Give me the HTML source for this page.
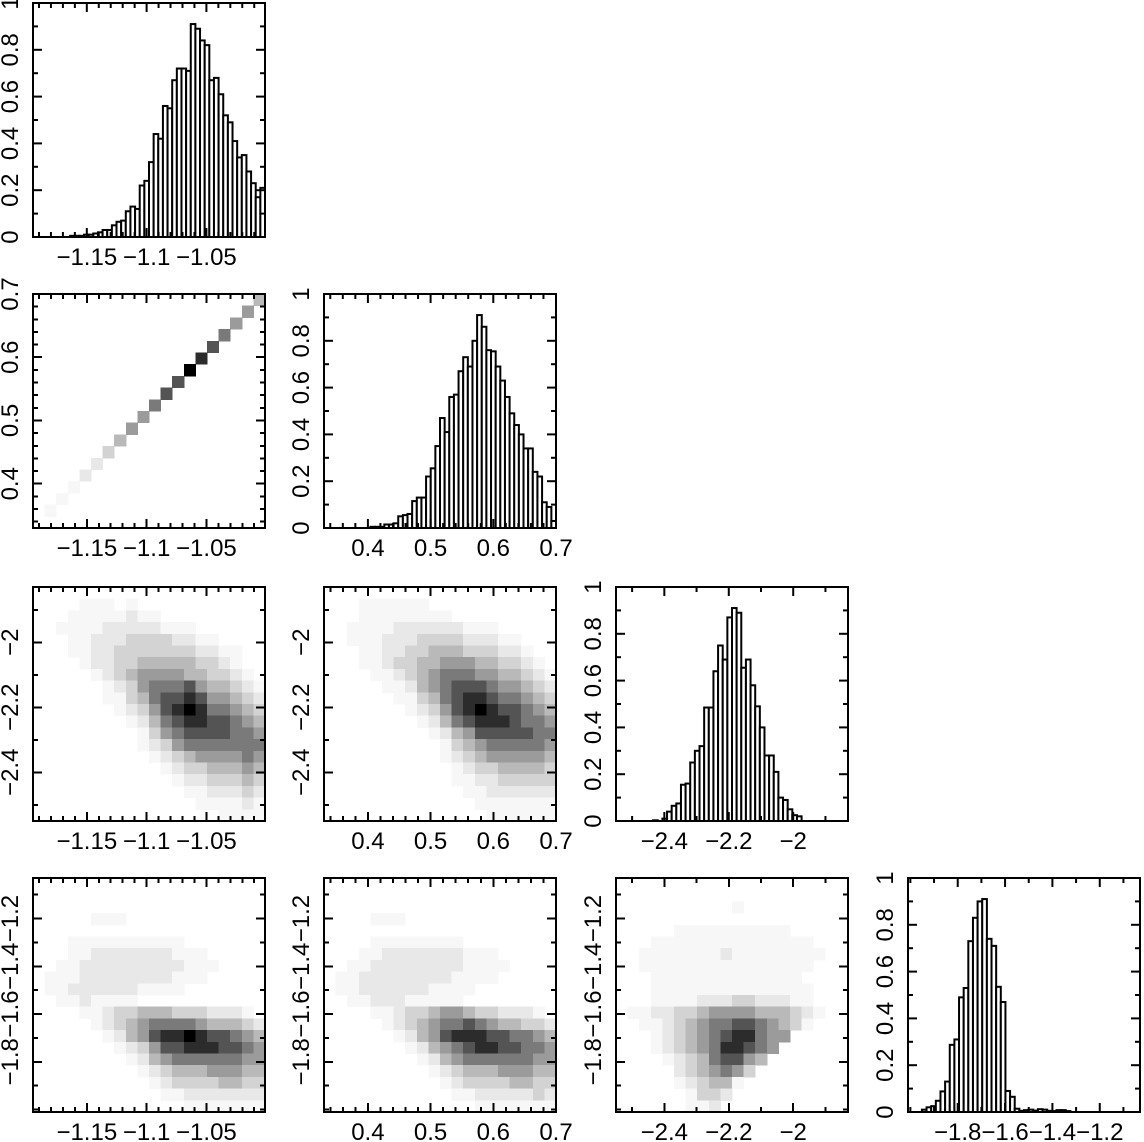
<!DOCTYPE html>
<html><head><meta charset="utf-8"><style>
html,body{margin:0;padding:0;background:#fff;}
svg{display:block;}
text{font-family:"Liberation Sans",sans-serif;font-size:24px;fill:#000;}
</style></head>
<body>
<svg id="fig" width="1144" height="1142" viewBox="0 0 1144 1142" xmlns="http://www.w3.org/2000/svg"></svg>
<script>
// ---- data ----
const varLo = [-1.195, 0.33, -2.55, -2.01];
const varHi = [-1.001, 0.70, -1.83, -1.03];
const majorTicks = [[-1.15,-1.1,-1.05],[0.4,0.5,0.6,0.7],[-2.4,-2.2,-2.0],[-1.8,-1.6,-1.4,-1.2]];
const tickLabels = [["−1.15","−1.1","−1.05"],["0.4","0.5","0.6","0.7"],["−2.4","−2.2","−2"],["−1.8","−1.6","−1.4","−1.2"]];
const minorStep = [0.01, 0.02, 0.1, 0.1];
const histTicks = [0,0.2,0.4,0.6,0.8,1];
const histTickLabels = ["0","0.2","0.4","0.6","0.8","1"];

const hist0 = [0,0,0,0,0,0,0,0,0.005,0.005,0.005,0.01,0.01,0.015,0.02,0.03,0.03,0.05,0.065,0.07,0.11,0.13,0.12,0.22,0.24,0.32,0.44,0.42,0.56,0.55,0.67,0.72,0.72,0.71,0.91,0.89,0.84,0.82,0.67,0.68,0.61,0.52,0.49,0.41,0.34,0.35,0.28,0.23,0.17,0.21];
const hist1 = [0,0,0,0,0,0,0,0,0,0,0.005,0.005,0.005,0.015,0.015,0.02,0.05,0.055,0.06,0.115,0.13,0.13,0.22,0.255,0.35,0.47,0.41,0.56,0.57,0.67,0.73,0.69,0.80,0.91,0.86,0.76,0.755,0.69,0.63,0.56,0.49,0.44,0.40,0.34,0.34,0.24,0.22,0.11,0.09,0.03];
const hist2 = [0,0,0,0,0,0,0,0,0.003,0,0.01,0.04,0.065,0.075,0.155,0.16,0.25,0.30,0.32,0.485,0.485,0.64,0.75,0.69,0.87,0.91,0.89,0.655,0.69,0.58,0.49,0.40,0.28,0.28,0.21,0.10,0.09,0.05,0.025,0.02,0,0,0,0,0,0,0,0,0,0];
const hist3 = [0,0,0,0.01,0.02,0.025,0.048,0.088,0.13,0.287,0.31,0.49,0.53,0.73,0.83,0.90,0.91,0.74,0.71,0.535,0.47,0.09,0.065,0.014,0.005,0.008,0.01,0.006,0.012,0.01,0.005,0.004,0.008,0.008,0.004,0,0,0,0,0,0,0,0,0,0,0,0,0,0,0];

// density grids (rows top->bottom, digit = darkness 0..9)
const dens10 = [
"00000000000000000004","00000000000000000050","00000000000000000500","00000000000000006000",
"00000000000000070000","00000000000000800000","00000000000009000000","00000000000070000000",
"00000000000700000000","00000000006000000000","00000000050000000000","00000000500000000000",
"00000004000000000000","00000030000000000000","00000200000000000000","00002000000000000000",
"00010000000000000000","00100000000000000000","01000000000000000000","00000000000000000000"];
const dens20 = [
"00000000000000000000","00001110100000000000","00011111211000000000","00111122222111000000",
"00011222333322110000","00011223333333221100","00001223344444332100","00000123455554433210",
"00000012356667544321","00000011346778755432","00000001235789866543","00000000124678877654",
"00000000013567777665","00000000012356666666","00000000001234555565","00000000000123344454",
"00000000000012233343","00000000000001122232","00000000000000111121","00000000000000001111"];
const dens21 = [
"00000000000000000000","00011111100000000000","00011111111000000000","00111122222211100000",
"00111222333322211000","00011223344433322100","00011233445554433210","00001123456665544321",
"00000112456777655432","00000011346788766543","00000001235789877654","00000000124678887665",
"00000000012457777766","00000000001345666665","00000000001234555554","00000000000123344443",
"00000000000112233333","00000000000011222222","00000000000001111111","00000000000000111111"];
const dens30 = [
"00000000000000000000","00000000000000000000","00000000000000000000","00000111000000000000",
"00000000000000000000","00011111111110000000","00011222222211100000","00112222222221110000",
"01112222222211100000","01122222211110000000","00112111100000000000","00001123344433322210",
"00000123456666544432","00000012457889877654","00000001235778887765","00000000124566666655",
"00000000012344455544","00000000001233334433","00000000000112222222","00000000000001111111"];
const dens31 = [
"00000000000000000000","00000000000000000000","00000000000000000000","00001110000000000000",
"00000000000000000000","00001111111100000000","00011222222211100000","00112222222211110000",
"01122222222111100000","01122222211110000000","00112221111100000000","00001123345543322210",
"00000123456676544332","00000012457888776654","00000001245678877665","00000000124566666655",
"00000000012344455544","00000000001233334433","00000000000112222232","00000000000001111111"];
const dens32 = [
"00000000000000000000","00000000000000000000","00000000001000000000","00000000000000000000",
"00000111111111100000","00011111111111111000","00111111121111111100","00111111111111111000",
"00011111111111110000","00011111111111111000","00011112223322211000","01122334555544432100",
"00112345667765431000","00012345678865500000","00012345688765000000","00001234677540000000",
"00000234565300000000","00000123441000000000","00000013320000000000","00000011200000000000"];

// ---- layout ----
const colX = [33, 324, 616, 908];
const rowY = [3, 294, 587, 878];
const PW = 232, PH = 234;
const NS = "http://www.w3.org/2000/svg";
const svg = document.getElementById('fig');

function mk(tag, attrs, parent){
  const e = document.createElementNS(NS, tag);
  for (const k in attrs) e.setAttribute(k, attrs[k]);
  (parent || svg).appendChild(e);
  return e;
}
function xScale(v, col){ return colX[col] + (v - varLo[col]) / (varHi[col] - varLo[col]) * PW; }
function yScaleVar(v, row, vi){ return rowY[row] + PH - (v - varLo[vi]) / (varHi[vi] - varLo[vi]) * PH; }
function yScaleHist(v, row){ return rowY[row] + PH - v * PH; }

function drawAxes(g, row, col, yIsHist){
  const x0 = colX[col], y0 = rowY[row];
  const lo = varLo[col], hi = varHi[col], st = minorStep[col];
  for (let k = Math.ceil(lo/st - 1e-6); k*st <= hi + 1e-9; k++){
    const v = k*st;
    const isMaj = majorTicks[col].some(m => Math.abs(m - v) < 1e-6);
    const L = isMaj ? 9 : 5;
    const px = xScale(v, col);
    mk('line', {x1:px, y1:y0+PH, x2:px, y2:y0+PH-L, stroke:'#000','stroke-width':2}, g);
    mk('line', {x1:px, y1:y0, x2:px, y2:y0+L, stroke:'#000','stroke-width':2}, g);
  }
  majorTicks[col].forEach((m, i) => {
    const t = mk('text', {x:xScale(m, col), y:y0+PH+28, 'text-anchor':'middle'}, g);
    t.textContent = tickLabels[col][i];
    
    
  });
  if (yIsHist){
    for (let k = 0; k <= 10; k++){
      const v = k/10, py = yScaleHist(v, row);
      const L = (k % 2 === 0) ? 9 : 5;
      mk('line', {x1:x0, y1:py, x2:x0+L, y2:py, stroke:'#000','stroke-width':2}, g);
      mk('line', {x1:x0+PW, y1:py, x2:x0+PW-L, y2:py, stroke:'#000','stroke-width':2}, g);
    }
    histTicks.forEach((m, i) => {
      const py = yScaleHist(m, row), lx = x0 - 15;
      const t = mk('text', {x:lx, y:py, 'text-anchor':'middle', transform:`rotate(-90 ${lx} ${py})`}, g);
      t.textContent = histTickLabels[i];
      
      
    });
  } else {
    const vi = row, l2 = varLo[vi], h2 = varHi[vi], s2 = minorStep[vi];
    for (let k = Math.ceil(l2/s2 - 1e-6); k*s2 <= h2 + 1e-9; k++){
      const v = k*s2;
      const isMaj = majorTicks[vi].some(m => Math.abs(m - v) < 1e-6);
      const L = isMaj ? 9 : 5;
      const py = yScaleVar(v, row, vi);
      mk('line', {x1:x0, y1:py, x2:x0+L, y2:py, stroke:'#000','stroke-width':2}, g);
      mk('line', {x1:x0+PW, y1:py, x2:x0+PW-L, y2:py, stroke:'#000','stroke-width':2}, g);
    }
    majorTicks[vi].forEach((m, i) => {
      const py = yScaleVar(m, row, vi), lx = x0 - 15;
      if (py < y0 - 2 || py > y0 + PH + 2) return;
      const t = mk('text', {x:lx, y:py, 'text-anchor':'middle', transform:`rotate(-90 ${lx} ${py})`}, g);
      t.textContent = tickLabels[vi][i];
      
      
    });
  }
  const fr = mk('rect', {x:x0, y:y0, width:PW, height:PH, fill:'none', stroke:'#000', 'stroke-width':2}, g);
  
  
}

function drawHist(k, data){
  const g = mk('g', {});
  
  
  const n = data.length, w = (varHi[k] - varLo[k]) / n;
  data.forEach((v, i) => {
    if (v <= 0) return;
    const xa = xScale(varLo[k] + i*w, k), xb = xScale(varLo[k] + (i+1)*w, k);
    const yt = yScaleHist(Math.min(v, 1), k), yb = yScaleHist(0, k);
    const r = mk('rect', {x:xa, y:yt, width:xb-xa, height:yb-yt, fill:'#fff', stroke:'#000', 'stroke-width':2}, g);
    
    
  });
  drawAxes(g, k, k, true);
}

function shade(d){ const gv = Math.round(255 * (1 - Math.pow(d/9, 1.6))); return `rgb(${gv},${gv},${gv})`; }

function drawDensity(row, col, grid){
  const g = mk('g', {'shape-rendering':'crispEdges'});
  
  
  const n = grid.length;
  const xs = (varHi[col] - varLo[col]) / n, ys = (varHi[row] - varLo[row]) / n;
  grid.forEach((rowStr, r) => {
    const s = rowStr.padEnd(n, '0');
    for (let c = 0; c < n; c++){
      const d = +s[c];
      if (!d) continue;
      const xa = xScale(varLo[col] + c*xs, col), xb = xScale(varLo[col] + (c+1)*xs, col);
      const ya = yScaleVar(varHi[row] - r*ys, row, row), yb = yScaleVar(varHi[row] - (r+1)*ys, row, row);
      const cell = mk('rect', {x:xa, y:ya, width:xb-xa+0.5, height:yb-ya+0.5, fill:shade(d)}, g);
      
      
    }
  });
  drawAxes(g, row, col, false);
}

drawHist(0, hist0); drawHist(1, hist1); drawHist(2, hist2); drawHist(3, hist3);
drawDensity(1, 0, dens10);
drawDensity(2, 0, dens20); drawDensity(2, 1, dens21);
drawDensity(3, 0, dens30); drawDensity(3, 1, dens31); drawDensity(3, 2, dens32);
</script>
</body></html>
